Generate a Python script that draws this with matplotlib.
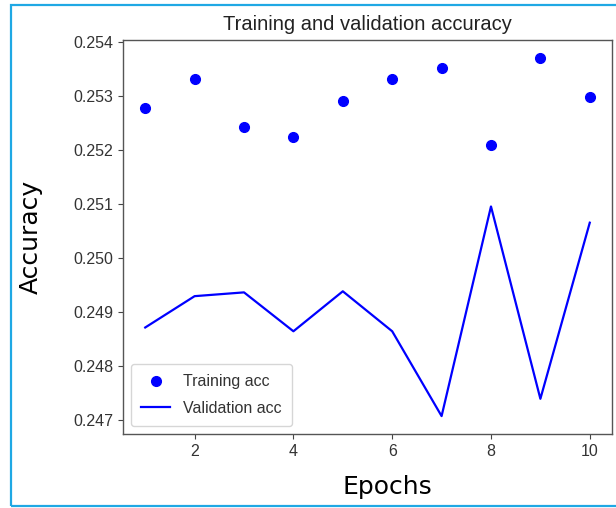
import matplotlib
matplotlib.use("Agg")
import matplotlib.pyplot as plt
from matplotlib.patches import Rectangle

epochs = [1, 2, 3, 4, 5, 6, 7, 8, 9, 10]
train_acc = [0.25277, 0.25331, 0.25242, 0.25223, 0.25290, 0.25331, 0.25352, 0.25208, 0.25370, 0.25298]
val_acc = [0.24871, 0.24929, 0.24936, 0.24864, 0.24938, 0.24864, 0.24707, 0.25095, 0.24739, 0.25065]

small = ["Liberation Sans", "DejaVu Sans"]

fig = plt.figure(figsize=(6.16, 5.08), dpi=100)
ax = fig.add_axes([123 / 616, 1 - 434 / 508, 489 / 616, 394 / 508])

ax.plot(epochs, train_acc, "bo", markersize=7, label="Training acc")
ax.plot(epochs, val_acc, "b", linewidth=1.6, label="Validation acc")

ax.set_title("Training and validation accuracy", family=small, fontsize=14.5, color="#222222", pad=7)
ax.set_xlabel("Epochs", fontsize=18)
ax.set_ylabel("Accuracy", fontsize=18)
ax.xaxis.set_label_coords(0.540, -0.105)
ax.yaxis.set_label_coords(-0.164, 0.5)

ax.set_xticks([2, 4, 6, 8, 10])
ax.set_yticks([0.247, 0.248, 0.249, 0.250, 0.251, 0.252, 0.253, 0.254])
for lbl in ax.get_xticklabels() + ax.get_yticklabels():
    lbl.set_family(small)
    lbl.set_fontsize(11.5)
    lbl.set_color("#333333")
ax.tick_params(colors="#444444", labelcolor="#333333")
for sp in ax.spines.values():
    sp.set_color("#555555")
    sp.set_linewidth(1.0)

leg = ax.legend(loc="lower left", prop={"family": small, "size": 11.5},
                labelspacing=0.7, borderpad=0.65, handlelength=1.8)
for t in leg.get_texts():
    t.set_color("#333333")

# screenshot frame
fig.patches.append(Rectangle((11 / 616, 2 / 508), 1.0, 1 - 7 / 508, transform=fig.transFigure,
                             fill=False, edgecolor="#1fa8e4", linewidth=1.6))

fig.savefig("out.png", dpi=100)
